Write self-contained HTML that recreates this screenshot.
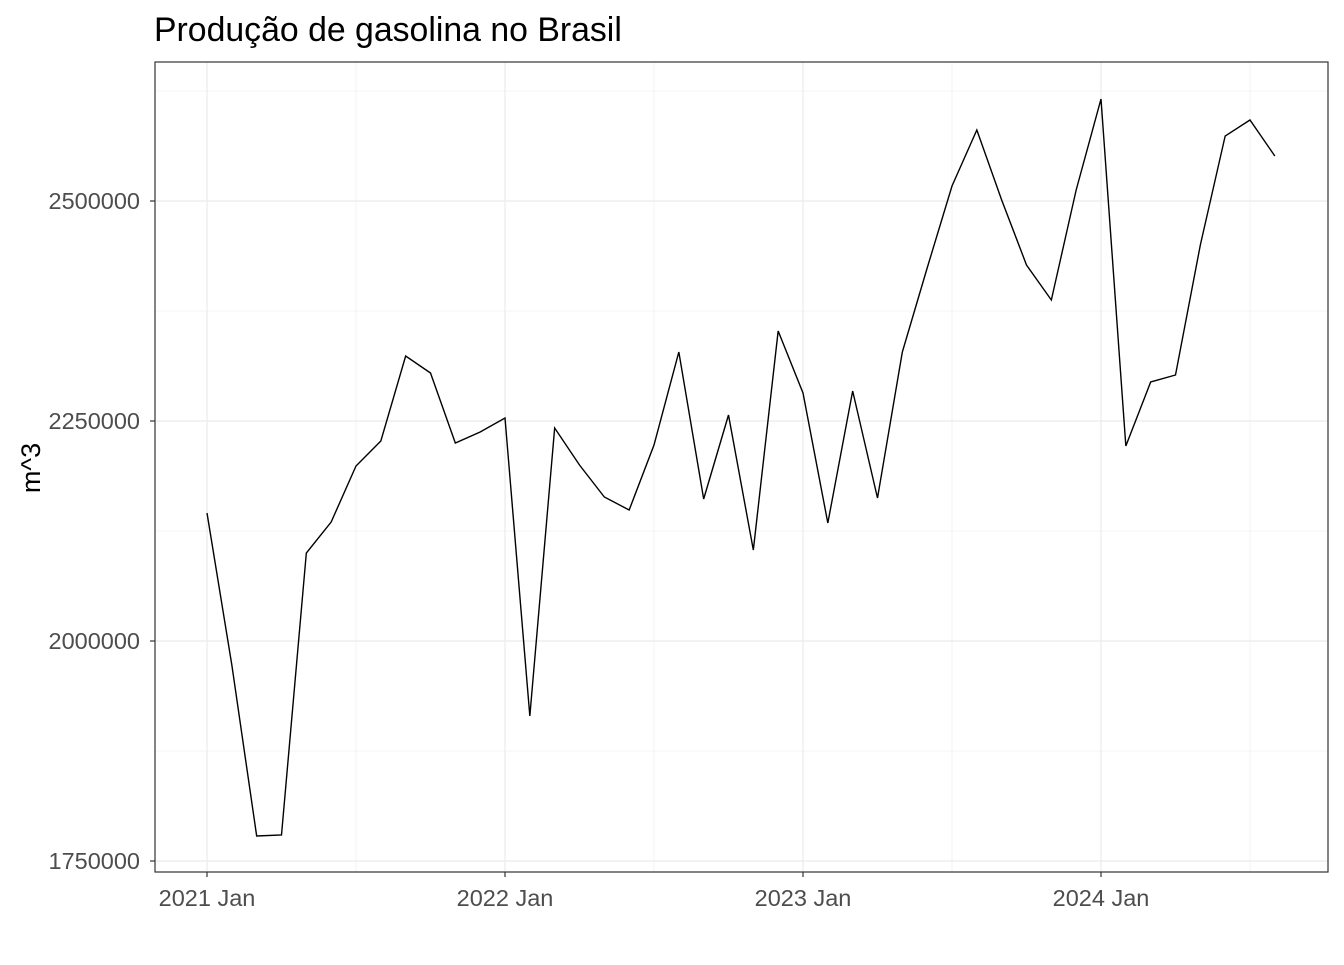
<!DOCTYPE html>
<html><head><meta charset="utf-8"><style>
body{margin:0;background:#fff;font-family:"Liberation Sans",Arial,sans-serif}
</style></head><body>
<svg width="1344" height="960" viewBox="0 0 1344 960" id="c">
<text x="154" y="41" font-size="33.8" fill="#000">Produção de gasolina no Brasil</text>
<text transform="translate(40,468) rotate(-90)" text-anchor="middle" font-size="27" fill="#000">m^3</text>
<g id="grid"></g><g id="ticks"></g>
<polyline id="line" fill="none" stroke="#000" stroke-width="1.4"/>
<rect x="155" y="62" width="1173" height="810" fill="none" stroke="#333" stroke-width="1.2"/>
</svg>
<script>
const values=[2145455,1972727,1778409,1779545,2100000,2135227,2198864,2227273,2323864,2304545,2225000,2237500,
2253409,1914773,2242045,2200000,2163636,2148864,2222727,2328409,2161364,2256818,2103409,2352273,
2281818,2134091,2284091,2162500,2328409,2423864,2517045,2580682,2501136,2427273,2387500,2512500,
2615909,2221591,2294318,2302273,2450000,2573864,2592045,2551136];
const yTicks=[1750000,2000000,2250000,2500000];
const xTickLabels=["2021 Jan","2022 Jan","2023 Jan","2024 Jan"];
const xTickMonths=[0,12,24,36];
const ns="http://www.w3.org/2000/svg";
const X=m=>207+m*298/12;
const Y=v=>201+(2500000-v)*220/250000;
const g=document.getElementById('grid'),t=document.getElementById('ticks');
function mk(p,tag,a){const e=document.createElementNS(ns,tag);for(const k in a)e.setAttribute(k,a[k]);p.appendChild(e);return e;}
[1625000,1875000,2125000,2375000,2625000].forEach(v=>{const y=Y(v);if(y>62&&y<872){const e=mk(g,'line',{x1:155,x2:1328,y1:y,y2:y,stroke:'#ebebeb','stroke-width':0.6});

}});
[6,18,30,42].forEach(m=>{const x=X(m);const e=mk(g,'line',{x1:x,x2:x,y1:62,y2:872,stroke:'#ebebeb','stroke-width':0.6});

});
yTicks.forEach(v=>{const y=Y(v);
const e=mk(g,'line',{x1:155,x2:1328,y1:y,y2:y,stroke:'#ebebeb','stroke-width':1.2});


const k=mk(t,'line',{x1:150,x2:155,y1:y,y2:y,stroke:'#333','stroke-width':1.2});


const l=mk(t,'text',{x:140,y:y+8,'text-anchor':'end','font-size':'23.5',fill:'#4d4d4d'});l.textContent=v;

});
xTickMonths.forEach((m,i)=>{const x=X(m);
const e=mk(g,'line',{x1:x,x2:x,y1:62,y2:872,stroke:'#ebebeb','stroke-width':1.2});


const k=mk(t,'line',{x1:x,x2:x,y1:872,y2:877,stroke:'#333','stroke-width':1.2});


const l=mk(t,'text',{x:x,y:906,'text-anchor':'middle','font-size':'23.5',fill:'#4d4d4d'});l.textContent=xTickLabels[i];

});
document.getElementById('line').setAttribute('points',values.map((v,i)=>X(i)+','+Y(v)).join(' '));
</script>
</body></html>
